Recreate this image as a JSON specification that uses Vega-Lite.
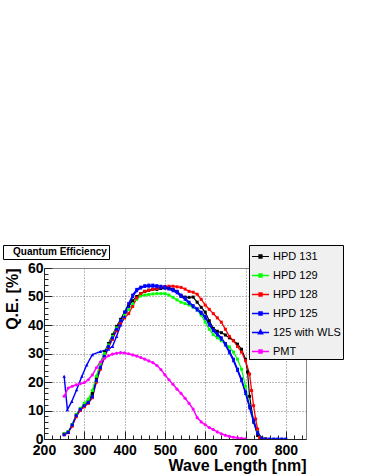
{
  "$schema": "https://vega.github.io/schema/vega-lite/v6.json",
  "width": 262,
  "height": 171,
  "autosize": {"type": "none"},
  "padding": {"left": 44, "top": 268, "right": 62, "bottom": 37},
  "background": "white",
  "config": {
    "font": "Liberation Sans",
    "view": {"stroke": "#888888", "strokeWidth": 1},
    "axis": {
      "domainColor": "#222222",
      "tickColor": "#222222",
      "labelColor": "black",
      "titleColor": "black",
      "labelFont": "Liberation Sans",
      "titleFont": "Liberation Sans",
      "labelFontWeight": "bold",
      "titleFontWeight": "bold",
      "labelFontSize": 14,
      "titleFontSize": 16,
      "labelFlush": false,
      "labelOverlap": false,
      "gridColor": "#777777",
      "gridDash": [1, 2],
      "gridWidth": 1
    }
  },
  "data": {"values": [
    {"series":"HPD 131","wl":250,"qe":1.8},{"series":"HPD 131","wl":260,"qe":2.5},{"series":"HPD 131","wl":270,"qe":5},{"series":"HPD 131","wl":280,"qe":8.5},{"series":"HPD 131","wl":290,"qe":10.5},{"series":"HPD 131","wl":300,"qe":12},{"series":"HPD 131","wl":310,"qe":13},{"series":"HPD 131","wl":320,"qe":16},{"series":"HPD 131","wl":330,"qe":21.5},{"series":"HPD 131","wl":340,"qe":26.5},{"series":"HPD 131","wl":350,"qe":30.5},{"series":"HPD 131","wl":360,"qe":33.5},{"series":"HPD 131","wl":370,"qe":36.5},{"series":"HPD 131","wl":380,"qe":39.5},{"series":"HPD 131","wl":390,"qe":42},{"series":"HPD 131","wl":400,"qe":44.5},{"series":"HPD 131","wl":410,"qe":46.5},{"series":"HPD 131","wl":420,"qe":48.5},{"series":"HPD 131","wl":430,"qe":50},{"series":"HPD 131","wl":440,"qe":51},{"series":"HPD 131","wl":450,"qe":51.8},{"series":"HPD 131","wl":460,"qe":52.2},{"series":"HPD 131","wl":470,"qe":52.5},{"series":"HPD 131","wl":480,"qe":52.5},{"series":"HPD 131","wl":490,"qe":52.8},{"series":"HPD 131","wl":500,"qe":53},{"series":"HPD 131","wl":510,"qe":52.8},{"series":"HPD 131","wl":520,"qe":52.5},{"series":"HPD 131","wl":530,"qe":51.8},{"series":"HPD 131","wl":540,"qe":50.2},{"series":"HPD 131","wl":550,"qe":49.8},{"series":"HPD 131","wl":560,"qe":49.7},{"series":"HPD 131","wl":570,"qe":49.8},{"series":"HPD 131","wl":580,"qe":48},{"series":"HPD 131","wl":590,"qe":46.2},{"series":"HPD 131","wl":600,"qe":44.5},{"series":"HPD 131","wl":610,"qe":41.5},{"series":"HPD 131","wl":620,"qe":38.8},{"series":"HPD 131","wl":630,"qe":37.8},{"series":"HPD 131","wl":640,"qe":37.3},{"series":"HPD 131","wl":650,"qe":36.5},{"series":"HPD 131","wl":660,"qe":35.5},{"series":"HPD 131","wl":670,"qe":34.5},{"series":"HPD 131","wl":680,"qe":33.3},{"series":"HPD 131","wl":690,"qe":31.5},{"series":"HPD 131","wl":700,"qe":28},{"series":"HPD 131","wl":705,"qe":23.5},{"series":"HPD 131","wl":710,"qe":15},{"series":"HPD 131","wl":720,"qe":6},{"series":"HPD 131","wl":730,"qe":1.2},{"series":"HPD 131","wl":740,"qe":0.3},{"series":"HPD 131","wl":750,"qe":0},
    {"series":"HPD 129","wl":250,"qe":1.8},{"series":"HPD 129","wl":260,"qe":2.5},{"series":"HPD 129","wl":270,"qe":5},{"series":"HPD 129","wl":280,"qe":8.5},{"series":"HPD 129","wl":290,"qe":10.7},{"series":"HPD 129","wl":300,"qe":12.5},{"series":"HPD 129","wl":310,"qe":14},{"series":"HPD 129","wl":320,"qe":17},{"series":"HPD 129","wl":330,"qe":22},{"series":"HPD 129","wl":340,"qe":26.5},{"series":"HPD 129","wl":350,"qe":30},{"series":"HPD 129","wl":360,"qe":33},{"series":"HPD 129","wl":370,"qe":36},{"series":"HPD 129","wl":380,"qe":39},{"series":"HPD 129","wl":390,"qe":41.5},{"series":"HPD 129","wl":400,"qe":43.5},{"series":"HPD 129","wl":410,"qe":45.5},{"series":"HPD 129","wl":420,"qe":47.3},{"series":"HPD 129","wl":430,"qe":49},{"series":"HPD 129","wl":440,"qe":50.2},{"series":"HPD 129","wl":450,"qe":50.5},{"series":"HPD 129","wl":460,"qe":50.7},{"series":"HPD 129","wl":470,"qe":50.9},{"series":"HPD 129","wl":480,"qe":51},{"series":"HPD 129","wl":490,"qe":51},{"series":"HPD 129","wl":500,"qe":51},{"series":"HPD 129","wl":510,"qe":50.5},{"series":"HPD 129","wl":520,"qe":49.7},{"series":"HPD 129","wl":530,"qe":48.8},{"series":"HPD 129","wl":540,"qe":48},{"series":"HPD 129","wl":550,"qe":47.5},{"series":"HPD 129","wl":560,"qe":47},{"series":"HPD 129","wl":570,"qe":46.3},{"series":"HPD 129","wl":580,"qe":45.3},{"series":"HPD 129","wl":590,"qe":43.5},{"series":"HPD 129","wl":600,"qe":41},{"series":"HPD 129","wl":610,"qe":38.5},{"series":"HPD 129","wl":620,"qe":36.6},{"series":"HPD 129","wl":630,"qe":35.5},{"series":"HPD 129","wl":640,"qe":34.5},{"series":"HPD 129","wl":650,"qe":33.5},{"series":"HPD 129","wl":660,"qe":32.3},{"series":"HPD 129","wl":670,"qe":30.5},{"series":"HPD 129","wl":680,"qe":28},{"series":"HPD 129","wl":690,"qe":24.5},{"series":"HPD 129","wl":700,"qe":18.5},{"series":"HPD 129","wl":710,"qe":11.5},{"series":"HPD 129","wl":720,"qe":6.3},{"series":"HPD 129","wl":730,"qe":2.5},{"series":"HPD 129","wl":740,"qe":0.3},{"series":"HPD 129","wl":750,"qe":0},
    {"series":"HPD 128","wl":250,"qe":1.5},{"series":"HPD 128","wl":260,"qe":2.2},{"series":"HPD 128","wl":270,"qe":4.5},{"series":"HPD 128","wl":280,"qe":7.8},{"series":"HPD 128","wl":290,"qe":10},{"series":"HPD 128","wl":300,"qe":11.3},{"series":"HPD 128","wl":310,"qe":12.5},{"series":"HPD 128","wl":320,"qe":14.5},{"series":"HPD 128","wl":330,"qe":20},{"series":"HPD 128","wl":340,"qe":24.5},{"series":"HPD 128","wl":350,"qe":28.5},{"series":"HPD 128","wl":360,"qe":32},{"series":"HPD 128","wl":370,"qe":35},{"series":"HPD 128","wl":380,"qe":38},{"series":"HPD 128","wl":390,"qe":40.5},{"series":"HPD 128","wl":400,"qe":42.5},{"series":"HPD 128","wl":410,"qe":44},{"series":"HPD 128","wl":420,"qe":46.5},{"series":"HPD 128","wl":430,"qe":49.5},{"series":"HPD 128","wl":440,"qe":51},{"series":"HPD 128","wl":450,"qe":51.8},{"series":"HPD 128","wl":460,"qe":52.2},{"series":"HPD 128","wl":470,"qe":52.5},{"series":"HPD 128","wl":480,"qe":52.8},{"series":"HPD 128","wl":490,"qe":53.2},{"series":"HPD 128","wl":500,"qe":53.5},{"series":"HPD 128","wl":510,"qe":53.6},{"series":"HPD 128","wl":520,"qe":53.6},{"series":"HPD 128","wl":530,"qe":53.4},{"series":"HPD 128","wl":540,"qe":53.2},{"series":"HPD 128","wl":550,"qe":52.6},{"series":"HPD 128","wl":560,"qe":51.8},{"series":"HPD 128","wl":570,"qe":51.5},{"series":"HPD 128","wl":580,"qe":50.8},{"series":"HPD 128","wl":590,"qe":49},{"series":"HPD 128","wl":600,"qe":47},{"series":"HPD 128","wl":610,"qe":45.5},{"series":"HPD 128","wl":620,"qe":44},{"series":"HPD 128","wl":630,"qe":42.5},{"series":"HPD 128","wl":640,"qe":41},{"series":"HPD 128","wl":650,"qe":38.5},{"series":"HPD 128","wl":660,"qe":36},{"series":"HPD 128","wl":670,"qe":34.5},{"series":"HPD 128","wl":680,"qe":32.5},{"series":"HPD 128","wl":690,"qe":30.5},{"series":"HPD 128","wl":700,"qe":27.5},{"series":"HPD 128","wl":710,"qe":22.8},{"series":"HPD 128","wl":715,"qe":17},{"series":"HPD 128","wl":720,"qe":11.7},{"series":"HPD 128","wl":725,"qe":7},{"series":"HPD 128","wl":730,"qe":3.5},{"series":"HPD 128","wl":735,"qe":0.5},{"series":"HPD 128","wl":740,"qe":0.2},{"series":"HPD 128","wl":750,"qe":0},
    {"series":"HPD 125","wl":250,"qe":1.5},{"series":"HPD 125","wl":260,"qe":2.3},{"series":"HPD 125","wl":270,"qe":4.9},{"series":"HPD 125","wl":280,"qe":8.2},{"series":"HPD 125","wl":290,"qe":10.4},{"series":"HPD 125","wl":300,"qe":11.7},{"series":"HPD 125","wl":310,"qe":12.8},{"series":"HPD 125","wl":320,"qe":14.8},{"series":"HPD 125","wl":330,"qe":20.5},{"series":"HPD 125","wl":340,"qe":25},{"series":"HPD 125","wl":350,"qe":29},{"series":"HPD 125","wl":360,"qe":32.5},{"series":"HPD 125","wl":370,"qe":35.5},{"series":"HPD 125","wl":380,"qe":38.5},{"series":"HPD 125","wl":390,"qe":41.5},{"series":"HPD 125","wl":400,"qe":44.5},{"series":"HPD 125","wl":410,"qe":47.5},{"series":"HPD 125","wl":420,"qe":50.5},{"series":"HPD 125","wl":430,"qe":52.5},{"series":"HPD 125","wl":440,"qe":53.3},{"series":"HPD 125","wl":450,"qe":53.8},{"series":"HPD 125","wl":460,"qe":54},{"series":"HPD 125","wl":470,"qe":54},{"series":"HPD 125","wl":480,"qe":53.8},{"series":"HPD 125","wl":490,"qe":53.6},{"series":"HPD 125","wl":500,"qe":53.4},{"series":"HPD 125","wl":510,"qe":53},{"series":"HPD 125","wl":520,"qe":52.5},{"series":"HPD 125","wl":530,"qe":51.8},{"series":"HPD 125","wl":540,"qe":50.5},{"series":"HPD 125","wl":550,"qe":49.5},{"series":"HPD 125","wl":560,"qe":48},{"series":"HPD 125","wl":570,"qe":46.8},{"series":"HPD 125","wl":580,"qe":45.7},{"series":"HPD 125","wl":590,"qe":44.5},{"series":"HPD 125","wl":600,"qe":43},{"series":"HPD 125","wl":610,"qe":40.5},{"series":"HPD 125","wl":620,"qe":38.4},{"series":"HPD 125","wl":630,"qe":37},{"series":"HPD 125","wl":640,"qe":35.5},{"series":"HPD 125","wl":650,"qe":33.5},{"series":"HPD 125","wl":660,"qe":30.8},{"series":"HPD 125","wl":670,"qe":28},{"series":"HPD 125","wl":680,"qe":24.5},{"series":"HPD 125","wl":690,"qe":21},{"series":"HPD 125","wl":700,"qe":16.5},{"series":"HPD 125","wl":710,"qe":11.5},{"series":"HPD 125","wl":720,"qe":6.5},{"series":"HPD 125","wl":730,"qe":2.3},{"series":"HPD 125","wl":740,"qe":0.3},{"series":"HPD 125","wl":750,"qe":0},{"series":"HPD 125","wl":760,"qe":0},{"series":"HPD 125","wl":770,"qe":0},{"series":"HPD 125","wl":780,"qe":0},{"series":"HPD 125","wl":790,"qe":0},{"series":"HPD 125","wl":800,"qe":0},
    {"series":"125 with WLS","wl":250,"qe":22},{"series":"125 with WLS","wl":258,"qe":10.3},{"series":"125 with WLS","wl":269,"qe":13.2},{"series":"125 with WLS","wl":281,"qe":17.3},{"series":"125 with WLS","wl":294,"qe":22},{"series":"125 with WLS","wl":306,"qe":26},{"series":"125 with WLS","wl":320,"qe":29.6},{"series":"125 with WLS","wl":340,"qe":30.7},{"series":"125 with WLS","wl":360,"qe":31.5},{"series":"125 with WLS","wl":370,"qe":32.5},{"series":"125 with WLS","wl":380,"qe":36},{"series":"125 with WLS","wl":390,"qe":40},{"series":"125 with WLS","wl":400,"qe":43},{"series":"125 with WLS","wl":410,"qe":46.5},{"series":"125 with WLS","wl":420,"qe":50},{"series":"125 with WLS","wl":430,"qe":52},{"series":"125 with WLS","wl":440,"qe":53},{"series":"125 with WLS","wl":450,"qe":53.5},{"series":"125 with WLS","wl":460,"qe":53.6},{"series":"125 with WLS","wl":470,"qe":53.6},{"series":"125 with WLS","wl":480,"qe":53.4},{"series":"125 with WLS","wl":490,"qe":53.2},{"series":"125 with WLS","wl":500,"qe":53},{"series":"125 with WLS","wl":510,"qe":52.6},{"series":"125 with WLS","wl":520,"qe":52},{"series":"125 with WLS","wl":530,"qe":51.3},{"series":"125 with WLS","wl":540,"qe":50},{"series":"125 with WLS","wl":550,"qe":49},{"series":"125 with WLS","wl":560,"qe":47.6},{"series":"125 with WLS","wl":570,"qe":46.4},{"series":"125 with WLS","wl":580,"qe":45.3},{"series":"125 with WLS","wl":590,"qe":44},{"series":"125 with WLS","wl":600,"qe":42.5},{"series":"125 with WLS","wl":610,"qe":40},{"series":"125 with WLS","wl":620,"qe":38},{"series":"125 with WLS","wl":630,"qe":36.5},{"series":"125 with WLS","wl":640,"qe":35},{"series":"125 with WLS","wl":650,"qe":33},{"series":"125 with WLS","wl":660,"qe":30.3},{"series":"125 with WLS","wl":670,"qe":27.5},{"series":"125 with WLS","wl":680,"qe":24},{"series":"125 with WLS","wl":690,"qe":20.5},{"series":"125 with WLS","wl":700,"qe":16},{"series":"125 with WLS","wl":710,"qe":11},{"series":"125 with WLS","wl":720,"qe":6},{"series":"125 with WLS","wl":730,"qe":2},{"series":"125 with WLS","wl":740,"qe":0.3},{"series":"125 with WLS","wl":750,"qe":0},
    {"series":"PMT","wl":250,"qe":15},{"series":"PMT","wl":260,"qe":17.9},{"series":"PMT","wl":270,"qe":18.5},{"series":"PMT","wl":280,"qe":19},{"series":"PMT","wl":290,"qe":19.4},{"series":"PMT","wl":300,"qe":19.8},{"series":"PMT","wl":310,"qe":20.8},{"series":"PMT","wl":320,"qe":22.5},{"series":"PMT","wl":330,"qe":25},{"series":"PMT","wl":340,"qe":27},{"series":"PMT","wl":350,"qe":28.3},{"series":"PMT","wl":360,"qe":29.2},{"series":"PMT","wl":370,"qe":29.8},{"series":"PMT","wl":380,"qe":30.1},{"series":"PMT","wl":390,"qe":30.3},{"series":"PMT","wl":400,"qe":30.2},{"series":"PMT","wl":410,"qe":29.9},{"series":"PMT","wl":420,"qe":29.5},{"series":"PMT","wl":430,"qe":29.1},{"series":"PMT","wl":440,"qe":28.6},{"series":"PMT","wl":450,"qe":28},{"series":"PMT","wl":460,"qe":27.4},{"series":"PMT","wl":470,"qe":26.8},{"series":"PMT","wl":480,"qe":25.8},{"series":"PMT","wl":490,"qe":24.4},{"series":"PMT","wl":500,"qe":22.5},{"series":"PMT","wl":510,"qe":20.8},{"series":"PMT","wl":520,"qe":19.2},{"series":"PMT","wl":530,"qe":17.5},{"series":"PMT","wl":540,"qe":16},{"series":"PMT","wl":550,"qe":14.3},{"series":"PMT","wl":560,"qe":12.5},{"series":"PMT","wl":570,"qe":10.5},{"series":"PMT","wl":580,"qe":7.5},{"series":"PMT","wl":590,"qe":6},{"series":"PMT","wl":600,"qe":5},{"series":"PMT","wl":610,"qe":4},{"series":"PMT","wl":620,"qe":3.3},{"series":"PMT","wl":630,"qe":2.5},{"series":"PMT","wl":640,"qe":1.8},{"series":"PMT","wl":650,"qe":1.3},{"series":"PMT","wl":660,"qe":0.9},{"series":"PMT","wl":670,"qe":0.6},{"series":"PMT","wl":680,"qe":0.4},{"series":"PMT","wl":690,"qe":0.2},{"series":"PMT","wl":700,"qe":0.1}
  ]},
  "encoding": {
    "x": {
      "field": "wl", "type": "quantitative",
      "scale": {"domain": [200, 850], "nice": false, "zero": false},
      "axis": null
    },
    "y": {
      "field": "qe", "type": "quantitative",
      "scale": {"domain": [0, 60], "nice": false},
      "axis": null
    },
    "color": {
      "field": "series", "type": "nominal",
      "scale": {
        "domain": ["HPD 131", "HPD 129", "HPD 128", "HPD 125", "125 with WLS", "PMT"],
        "range": ["#000000", "#00ff00", "#ff0000", "#0000ff", "#0000ff", "#ff00ff"]
      },
      "legend": {
        "orient": "none",
        "legendX": 205,
        "legendY": -23,
        "title": null,
        "labelFont": "Liberation Sans",
        "labelFontSize": 11,
        "labelColor": "black",
        "symbolType": "M-1,0H1M-0.18,-0.18H0.18V0.18H-0.18Z",
        "symbolSize": 289,
        "symbolStrokeWidth": 1,
        "labelOffset": 3,
        "rowPadding": 4,
        "padding": 2,
        "fillColor": "#f0f0f0",
        "strokeColor": "#000000",
        "cornerRadius": 0,
        "encode": {
          "symbols": {
            "update": {
              "shape": {"signal": "datum.value === '125 with WLS' ? 'M-1,0H1M0,-0.3L0.24,0.14H-0.24Z' : 'M-1,0H1M-0.18,-0.18H0.18V0.18H-0.18Z'"},
              "fill": {"scale": "color", "field": "value"},
              "stroke": {"scale": "color", "field": "value"},
              "opacity": {"value": 1}
            }
          }
        }
      }
    }
  },
  "layer": [
    {
      "mark": {"type": "line", "clip": true},
      "encoding": {
        "x": {
          "field": "wl", "type": "quantitative",
          "scale": {"domain": [200, 850], "nice": false, "zero": false},
          "axis": {
            "orient": "bottom",
            "title": "Wave Length [nm]",
            "values": [200, 300, 400, 500, 600, 700, 800],
            "tickSize": -8,
            "labelPadding": 12,
            "titleAnchor": "end",
            "titleAlign": "right",
            "titleX": 262,
            "titleY": 31,
            "titleBaseline": "alphabetic"
          }
        },
        "y": {
          "field": "qe", "type": "quantitative",
          "scale": {"domain": [0, 60], "nice": false},
          "axis": {
            "orient": "left",
            "title": "Q.E. [%]",
            "values": [0, 10, 20, 30, 40, 50, 60],
            "tickSize": -8,
            "labelPadding": 9,
            "titleAnchor": "end",
            "titleAlign": "right",
            "titleBaseline": "middle",
            "titleX": -32,
            "titleY": 0
          }
        },
        "strokeWidth": {
          "field": "series", "type": "nominal",
          "scale": {"domain": ["HPD 131", "HPD 129", "HPD 128", "HPD 125", "125 with WLS", "PMT"], "range": [1.2, 1.5, 1.5, 2.2, 1.2, 1.2]},
          "legend": null
        },
        "strokeDash": {
          "datum": "Quantum Efficiency",
          "scale": {"range": [[1, 0]]},
          "legend": {
            "orient": "none",
            "legendX": -41,
            "legendY": -23,
            "title": null,
            "labelFont": "Liberation Sans",
            "labelFontSize": 10,
            "labelFontWeight": "bold",
            "labelColor": "black",
            "symbolSize": 0,
            "symbolOpacity": 0,
            "symbolStrokeWidth": 0,
            "labelOffset": -2,
            "padding": 2,
            "fillColor": "white",
            "strokeColor": "black",
            "cornerRadius": 0
          }
        }
      }
    },
    {
      "transform": [{"filter": "datum.series !== '125 with WLS' && datum.series !== 'PMT'"}],
      "mark": {"type": "point", "shape": "square", "filled": true, "size": 9, "opacity": 1, "clip": true}
    },
    {
      "transform": [{"filter": "datum.series === '125 with WLS'"}],
      "mark": {"type": "point", "shape": "triangle-up", "filled": true, "size": 12, "opacity": 1, "clip": true}
    },
    {
      "transform": [{"filter": "datum.series === 'PMT'"}],
      "mark": {"type": "point", "shape": "circle", "filled": true, "size": 10, "opacity": 1, "clip": true}
    },
    {
      "mark": {"type": "point", "opacity": 0},
      "encoding": {
        "x": {
          "field": "wl", "type": "quantitative",
          "scale": {"domain": [200, 850], "nice": false, "zero": false},
          "axis": {
            "orient": "bottom",
            "values": [220, 240, 260, 280, 320, 340, 360, 380, 420, 440, 460, 480, 520, 540, 560, 580, 620, 640, 660, 680, 720, 740, 760, 780, 820, 840],
            "tickSize": -4,
            "labels": false,
            "grid": false,
            "domain": false,
            "title": null
          }
        },
        "y": {
          "field": "qe", "type": "quantitative",
          "scale": {"domain": [0, 60], "nice": false},
          "axis": {
            "orient": "left",
            "values": [2, 4, 6, 8, 12, 14, 16, 18, 22, 24, 26, 28, 32, 34, 36, 38, 42, 44, 46, 48, 52, 54, 56, 58],
            "tickSize": -4,
            "labels": false,
            "grid": false,
            "domain": false,
            "title": null
          }
        }
      }
    }
  ],
  "resolve": {"axis": {"x": "independent", "y": "independent"}}
}
